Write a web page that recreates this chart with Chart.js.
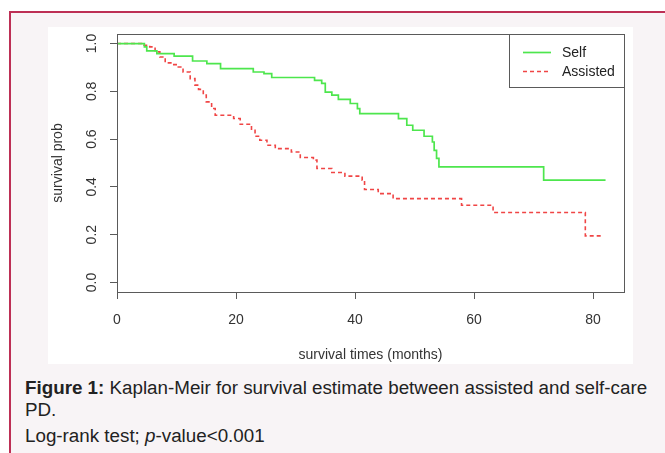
<!DOCTYPE html>
<html><head><meta charset="utf-8">
<script src="https://cdn.jsdelivr.net/npm/chart.js@4"></script>
<style>
html,body{margin:0;padding:0;background:#fff;width:665px;height:453px;overflow:hidden;font-family:"Liberation Sans",Arial,sans-serif;}
#frame{position:absolute;left:9px;top:11px;width:700px;height:500px;border:2px solid #bd2f55;background:#f8f4f6;box-sizing:border-box;}
#panel{position:absolute;left:48px;top:27px;width:585px;height:337px;background:#fff;}
canvas{display:block}
.cap{position:absolute;left:25px;font-size:18.8px;line-height:22px;color:#222;white-space:nowrap;}
</style></head>
<body>
<div id="frame"></div>
<div id="panel"><canvas id="c" width="585" height="337"></canvas></div>
<div class="cap" style="top:377px"><b>Figure 1:</b> Kaplan-Meir for survival estimate between assisted and self-care</div>
<div class="cap" style="top:399px">PD.</div>
<div class="cap" style="top:425px">Log-rank test; <i>p</i>-value&lt;0.001</div>
<script>
// Kaplan-Meier step data (time in months, survival probability)
const selfTimes = [0, 4.6, 5.0, 6.7, 9.6, 12.7, 15.1, 17.4, 22.9, 24.7, 26.0, 33.2, 34.4, 35.0, 36.1, 37.2, 39.2, 40.4, 40.8, 47.3, 48.7, 49.7, 51.6, 53.0, 53.3, 53.7, 54.1, 71.7, 82.1];
const selfSurv  = [1.0, 0.986, 0.969, 0.958, 0.947, 0.927, 0.916, 0.895, 0.881, 0.874, 0.858, 0.846, 0.833, 0.797, 0.784, 0.766, 0.749, 0.728, 0.707, 0.686, 0.658, 0.637, 0.612, 0.588, 0.553, 0.519, 0.484, 0.428, 0.428];
const assistedTimes = [0, 4.1, 5.5, 6.4, 7.2, 8.1, 9.2, 10.3, 11.1, 12.3, 13.1, 13.7, 14.5, 15.0, 15.9, 16.5, 19.6, 20.7, 22.6, 23.2, 24.0, 25.2, 26.6, 29.3, 30.8, 33.0, 33.6, 36.1, 38.3, 41.2, 41.6, 43.9, 46.4, 57.9, 63.2, 78.7, 81.5];
const assistedSurv  = [1.0, 0.993, 0.986, 0.965, 0.944, 0.919, 0.912, 0.902, 0.881, 0.853, 0.826, 0.808, 0.784, 0.756, 0.728, 0.700, 0.686, 0.662, 0.637, 0.612, 0.595, 0.574, 0.560, 0.546, 0.523, 0.512, 0.477, 0.460, 0.445, 0.428, 0.389, 0.372, 0.351, 0.323, 0.293, 0.195, 0.195];
const seriesLabels = ["Self", "Assisted"];
const xTicks = [0, 20, 40, 60, 80];
const yTicks = [0.0, 0.2, 0.4, 0.6, 0.8, 1.0];
const xTitle = "survival times (months)";
const yTitle = "survival prob";

const toPts = (t, s) => t.map((v, i) => ({x: v, y: s[i]}));
const FONT = '"Liberation Sans", Arial, sans-serif';

const boxPlugin = {
  id: 'rbox',
  afterDatasetsDraw(chart) {
    const {ctx, chartArea: a} = chart;
    ctx.save();
    ctx.strokeStyle = '#5a5a5a';
    ctx.lineWidth = 1;
    ctx.strokeRect(Math.round(a.left) + 0.5, Math.round(a.top) + 0.5, Math.round(a.right - a.left), Math.round(a.bottom - a.top));
    // legend
    const w = 115, h = 53;
    const lx = Math.round(a.right) - w, ly = Math.round(a.top);
    ctx.fillStyle = '#fff';
    ctx.fillRect(lx, ly, w, h);
    ctx.strokeRect(lx + 0.5, ly + 0.5, w, h);
    ctx.font = '14px ' + FONT;
    ctx.textBaseline = 'middle';
    chart.data.datasets.forEach((ds, i) => {
      const y = ly + 18 + i * 19;
      ctx.beginPath();
      ctx.strokeStyle = ds.borderColor;
      ctx.lineWidth = ds.borderWidth;
      ctx.setLineDash(ds.borderDash || []);
      ctx.moveTo(lx + 14, y + 0.5);
      ctx.lineTo(lx + 42, y + 0.5);
      ctx.stroke();
      ctx.setLineDash([]);
      ctx.fillStyle = '#222';
      ctx.fillText(ds.label, lx + 53, y + 1);
    });
    ctx.restore();
  }
};

new Chart(document.getElementById('c'), {
  type: 'line',
  data: {
    datasets: [
      {label: seriesLabels[0], data: toPts(selfTimes, selfSurv), borderColor: '#4de64d', borderWidth: 1.7, stepped: true, pointRadius: 0, fill: false},
      {label: seriesLabels[1], data: toPts(assistedTimes, assistedSurv), borderColor: '#f04545', borderWidth: 1.6, borderDash: [4, 3], stepped: true, pointRadius: 0, fill: false}
    ]
  },
  options: {
    responsive: false,
    animation: false,
    events: [],
    layout: {padding: {left: 0, top: 7, right: 9, bottom: 0}},
    plugins: {legend: {display: false}, tooltip: {enabled: false}},
    scales: {
      x: {
        type: 'linear', min: 0, max: 85.2,
        afterBuildTicks: s => { s.ticks = xTicks.map(v => ({value: v})); },
        afterFit: s => { s.height = 72; s.paddingLeft = 0; s.paddingRight = 0; },
        grid: {display: true, drawOnChartArea: false, drawTicks: true, tickLength: 7, color: '#5a5a5a'},
        border: {display: true, color: '#5a5a5a'},
        ticks: {color: '#333', font: {size: 14, family: FONT}, padding: 13, maxRotation: 0, callback: v => String(v)},
        title: {display: true, text: xTitle, color: '#333', font: {size: 14, family: FONT}, padding: {top: 0, bottom: 0}}
      },
      y: {
        type: 'linear', min: -0.04, max: 1.04,
        afterBuildTicks: s => { s.ticks = yTicks.map(v => ({value: v})); },
        afterFit: s => { s.width = 69; s.paddingTop = 0; s.paddingBottom = 0; },
        grid: {display: true, drawOnChartArea: false, drawTicks: true, tickLength: 7, color: '#5a5a5a'},
        border: {display: true, color: '#5a5a5a'},
        ticks: {color: '#333', font: {size: 14, family: FONT}, padding: 8, minRotation: 90, maxRotation: 90, crossAlign: 'center', callback: v => Number(v).toFixed(1)},
        title: {display: true, text: yTitle, color: '#333', font: {size: 14, family: FONT}, padding: {top: 2, bottom: 0}}
      }
    }
  },
  plugins: [boxPlugin]
});
</script>
</body></html>
